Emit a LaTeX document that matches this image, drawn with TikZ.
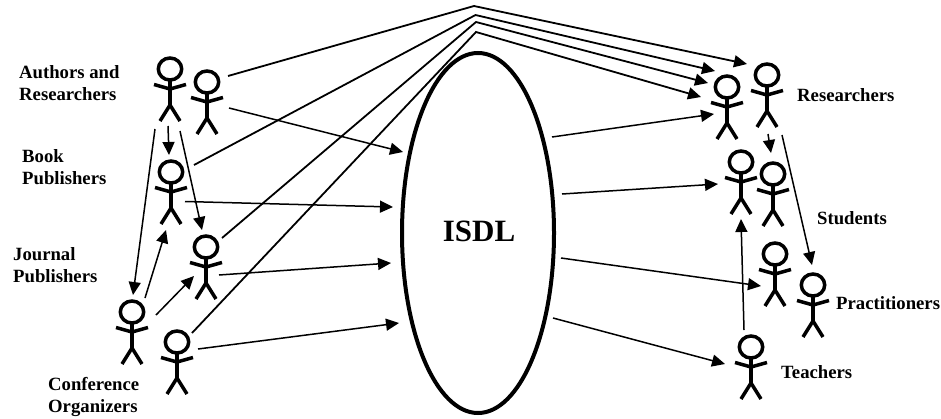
\documentclass[tikz,border=0pt]{standalone}
\usepackage{fontspec}
\setmainfont{Liberation Serif}
\usetikzlibrary{arrows.meta, calc, shapes.geometric}

\begin{document}
\begin{tikzpicture}[
    x=1pt, y=-1pt,
    figbox/.style={rectangle, inner sep=0pt, minimum width=36pt, minimum height=66pt},
    lbl/.style={anchor=west, align=left, inner sep=0pt, font=\fontsize{18.7}{22.5}\selectfont\bfseries},
    arr/.style={-{Triangle[length=13pt, width=12pt]}, line width=1.5pt},
    toparr/.style={arr, line width=1.8pt},
    person/.pic={
        \draw[line width=3.5pt] (0,-20) ellipse [x radius=11.7pt, y radius=11pt];
        \draw[line width=3.5pt] (0,-9) -- (0,16);
        \draw[line width=3.5pt] (-16,-4.5) -- (0,0) -- (16,-4.5);
        \draw[line width=3.5pt] (-10,32) -- (0,16) -- (10,32);
    }
]
\useasboundingbox (0,0) rectangle (941,418);

% Central library
\node[ellipse, draw, line width=4pt, inner sep=0pt, minimum width=152pt, minimum height=360pt] (isdl) at (478,233) {};
\node[inner sep=0pt, font=\fontsize{31}{36}\selectfont\bfseries] (isdlname) at (479,231) {ISDL};

% Stick figures
\foreach \n/\x/\y in {auth1/170/89, auth2/207/102, book/171/192, jour/206/267, conf1/132/332, conf2/177/362,
                      rsch1/727/107, rsch2/767/95, stud1/741/182, stud2/773/194, prac1/775/274, prac2/813/305, teach/751/367} {
    \node[figbox] (\n) at (\x,\y) {};
    \pic at (\n) {person};
}

% Labels
\node[lbl] (lauth) at (19,83)  {Authors and\\Researchers};
\node[lbl] (lbook) at (22,167) {Book\\Publishers};
\node[lbl] (ljour) at (13,265) {Journal\\Publishers};
\node[lbl] (lconf) at (48,397) {Conference\\Organizers};
\node[lbl] (lrsch) at (797,95)  {Researchers};
\node[lbl] (lstud) at (817,218) {Students};
\node[lbl] (lprac) at (836,303) {Practitioners};
\node[lbl] (lteach) at (781,372) {Teachers};

% Direct links over the top
\coordinate (apexa) at (474,6);
\coordinate (apexb) at (475.5,15);
\coordinate (apexc) at (476,22);
\coordinate (apexd) at (476,32);
\draw[toparr] ($(auth2)+(21,-26)$) -- (apexa) -- ($(rsch2)+(-20,-31)$);
\draw[toparr] ($(book)+(23,-27)$)  -- (apexb) -- ($(rsch1)+(-12,-36)$);
\draw[toparr] ($(jour)+(16,-29)$)  -- (apexc) -- ($(rsch1)+(-19,-24)$);
\draw[toparr] ($(conf2)+(15,-29)$) -- (apexd) -- ($(rsch1)+(-26,-10)$);

% Suppliers -> ISDL
\draw[arr] ($(auth2)+(22,6)$)  -- ($(isdl)+(-75,-81)$);
\draw[arr] ($(book)+(14,9.5)$) -- ($(isdl)+(-85,-26)$);
\draw[arr] ($(jour)+(13,8)$)   -- ($(isdl)+(-87,30)$);
\draw[arr] ($(conf2)+(21,-13)$) -- ($(isdl)+(-79,90)$);

% Among suppliers
\draw[arr] ($(auth1)+(-2,37)$)  -- ($(book)+(-2,-37)$);
\draw[arr] ($(auth1)+(10,42)$)  -- ($(jour)+(-4,-37)$);
\draw[arr] ($(auth1)+(-15,40)$) -- ($(conf1)+(1,-37)$);
\draw[arr] ($(conf1)+(13,-34)$) -- ($(book)+(-5,38)$);
\draw[arr] ($(conf1)+(24,-17)$) -- ($(jour)+(-12,9)$);

% ISDL -> users
\draw[arr] ($(isdl)+(74,-96)$) -- ($(rsch1)+(-13,7)$);
\draw[arr] ($(isdl)+(84,-39)$) -- ($(stud1)+(-23,2)$);
\draw[arr] ($(isdl)+(83,25)$)  -- ($(prac1)+(-14,12)$);
\draw[arr] ($(isdl)+(75,85)$)  -- ($(teach)+(-26,-3)$);

% Among users
\draw[arr] ($(rsch2)+(1,39)$)  -- ($(stud2)+(-2,-41)$);
\draw[arr] ($(rsch2)+(15,40)$) -- ($(prac2)+(-1,-40)$);
\draw[arr] ($(teach)+(-7,-37)$) -- ($(stud1)+(0,37)$);
\end{tikzpicture}
\end{document}
